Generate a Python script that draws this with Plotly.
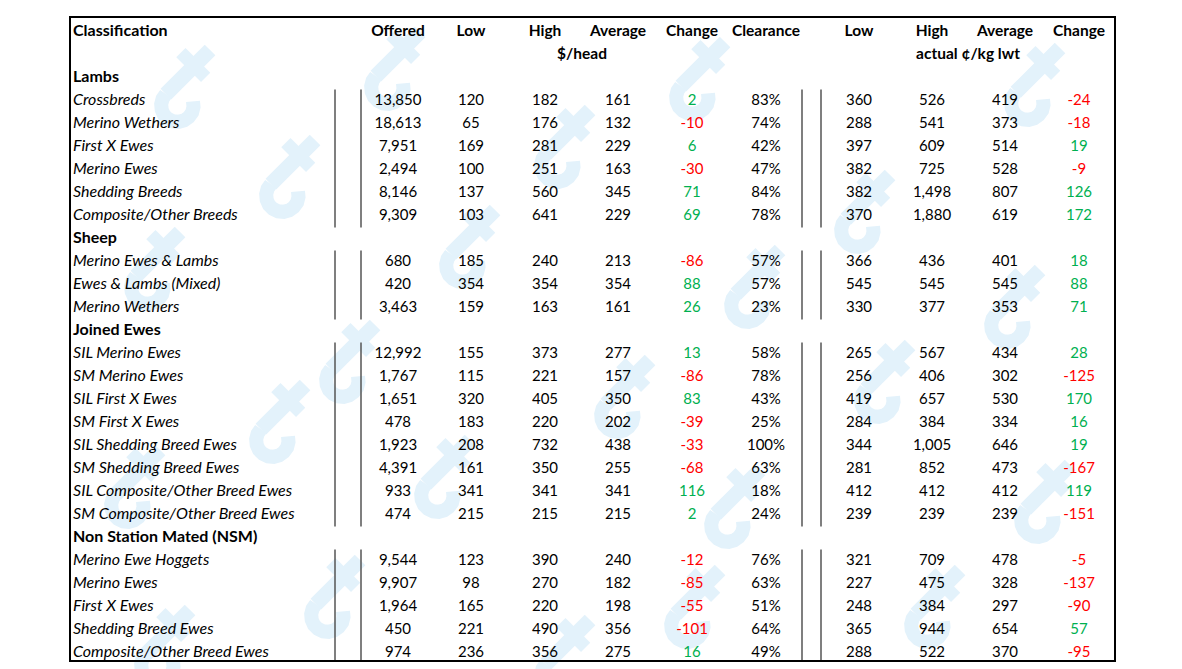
import math
import plotly.graph_objects as go

# ---------------- data ----------------
sections = ["Lambs", "Sheep", "Joined Ewes", "Non Station Mated (NSM)"]
section_sizes = [6, 3, 8, 5]
categories = [
    "Crossbreds", "Merino Wethers", "First X Ewes", "Merino Ewes", "Shedding Breeds", "Composite/Other Breeds",
    "Merino Ewes & Lambs", "Ewes & Lambs (Mixed)", "Merino Wethers",
    "SIL Merino Ewes", "SM Merino Ewes", "SIL First X Ewes", "SM First X Ewes",
    "SIL Shedding Breed Ewes", "SM Shedding Breed Ewes", "SIL Composite/Other Breed Ewes", "SM Composite/Other Breed Ewes",
    "Merino Ewe Hoggets", "Merino Ewes", "First X Ewes", "Shedding Breed Ewes", "Composite/Other Breed Ewes",
]
offered = [13850, 18613, 7951, 2494, 8146, 9309, 680, 420, 3463, 12992, 1767, 1651, 478, 1923, 4391, 933, 474,
           9544, 9907, 1964, 450, 974]
low_head = [120, 65, 169, 100, 137, 103, 185, 354, 159, 155, 115, 320, 183, 208, 161, 341, 215, 123, 98, 165, 221, 236]
high_head = [182, 176, 281, 251, 560, 641, 240, 354, 163, 373, 221, 405, 220, 732, 350, 341, 215, 390, 270, 220, 490, 356]
avg_head = [161, 132, 229, 163, 345, 229, 213, 354, 161, 277, 157, 350, 202, 438, 255, 341, 215, 240, 182, 198, 356, 275]
change_head = [2, -10, 6, -30, 71, 69, -86, 88, 26, 13, -86, 83, -39, -33, -68, 116, 2, -12, -85, -55, -101, 16]
clearance = [83, 74, 42, 47, 84, 78, 57, 57, 23, 58, 78, 43, 25, 100, 63, 18, 24, 76, 63, 51, 64, 49]
low_kg = [360, 288, 397, 382, 382, 370, 366, 545, 330, 265, 256, 419, 284, 344, 281, 412, 239, 321, 227, 248, 365, 288]
high_kg = [526, 541, 609, 725, 1498, 1880, 436, 545, 377, 567, 406, 657, 384, 1005, 852, 412, 239, 709, 475, 384, 944, 522]
avg_kg = [419, 373, 514, 528, 807, 619, 401, 545, 353, 434, 302, 530, 334, 646, 473, 412, 239, 478, 328, 297, 654, 370]
change_kg = [-24, -18, 19, -9, 126, 172, 18, 88, 71, 28, -125, 170, 16, 19, -167, 119, -151, -5, -137, -90, 57, -95]

headers = ["Offered", "Low", "High", "Average", "Change", "Clearance", "Low", "High", "Average", "Change"]
unit_labels = ["$/head", "actual ¢/kg lwt"]

# ---------------- layout constants ----------------
W, H = 1182, 669
PAGE_OFF = 8  # default body margin of the html page
ROW0, ROWH = 32, 23
col_x = [398, 471, 545, 618, 692, 766, 859, 932, 1005, 1079]
unit_x = [582, 968]
LABEL_X = 73
FONT = "Lato, Carlito, Calibri, sans-serif"
FS_NUM, FS_LABEL, FS_HEAD = 15, 16, 15.5
GREEN, RED, BLACK = "#00B050", "#FF0000", "#000000"

def fmt(v):
    return f"{v:,}"

item_rows, section_rows, groups = [], [], []
r = 2
for s, n in zip(sections, section_sizes):
    section_rows.append(r)
    r += 1
    groups.append((r, r + n - 1))
    for _ in range(n):
        item_rows.append(r)
        r += 1

def ypos(row):
    return ROW0 + ROWH * row

fig = go.Figure()

# watermark logos
wm_centres = [(180, 80), (390, 62), (695, 72), (1030, 78), (285, 170), (560, 140), (860, 205),
              (150, 262), (465, 240), (750, 280), (1010, 300), (345, 355), (275, 415), (620, 390),
              (880, 375), (1040, 495), (130, 480), (440, 470), (730, 500), (330, 590), (690, 600),
              (930, 600), (560, 650), (160, 640)]
WM = "#e3f2fb"

def rot(px, py, cx, cy, s, th):
    c, si = math.cos(th), math.sin(th)
    return cx + s * (px * c - py * si), cy + s * (px * si + py * c)

for (cx, cy) in wm_centres:
    th = math.radians(45)
    s = 1.25
    def seg(a, b, w):
        x0, y0 = rot(a[0], a[1], cx, cy, s, th)
        x1, y1 = rot(b[0], b[1], cx, cy, s, th)
        fig.add_shape(type="line", x0=x0, y0=y0, x1=x1, y1=y1, xref="x", yref="y",
                      line=dict(color=WM, width=w), layer="below")
    seg((0, -34), (0, 16), 15)
    seg((-15, -16), (13, -16), 13)
    pts = []
    for i in range(0, 13):
        a = math.radians(180 - i * 20)
        px, py = 13 + 13 * math.cos(a), 16 + 13 * math.sin(a)
        pts.append(rot(px, py, cx, cy, s, th))
    path = "M " + " L ".join(f"{x:.1f},{y:.1f}" for x, y in pts)
    fig.add_shape(type="path", path=path, xref="x", yref="y",
                  line=dict(color=WM, width=14), layer="below")

# header row
fig.add_trace(go.Scatter(x=[LABEL_X], y=[ypos(0)], mode="text", text=["Classification"],
                         textposition="middle right",
                         textfont=dict(family=FONT, size=FS_LABEL, color=BLACK, weight="bold")))
fig.add_trace(go.Scatter(x=col_x, y=[ypos(0)] * len(headers), mode="text", text=headers,
                         textposition="middle center",
                         textfont=dict(family=FONT, size=FS_HEAD, color=BLACK, weight="bold")))
fig.add_trace(go.Scatter(x=unit_x, y=[ypos(1)] * 2, mode="text", text=unit_labels,
                         textposition="middle center",
                         textfont=dict(family=FONT, size=FS_HEAD, color=BLACK, weight="bold")))
fig.add_trace(go.Scatter(x=[LABEL_X] * len(sections), y=[ypos(rr) for rr in section_rows], mode="text",
                         text=sections, textposition="middle right",
                         textfont=dict(family=FONT, size=FS_LABEL, color=BLACK, weight="bold")))
ys = [ypos(rr) for rr in item_rows]
fig.add_trace(go.Scatter(x=[LABEL_X] * len(categories), y=ys, mode="text", text=categories,
                         textposition="middle right",
                         textfont=dict(family=FONT, size=FS_LABEL, color=BLACK, style="italic")))

cols = [
    ([fmt(v) for v in offered], None),
    ([fmt(v) for v in low_head], None),
    ([fmt(v) for v in high_head], None),
    ([fmt(v) for v in avg_head], None),
    ([fmt(v) for v in change_head], change_head),
    ([f"{v}%" for v in clearance], None),
    ([fmt(v) for v in low_kg], None),
    ([fmt(v) for v in high_kg], None),
    ([fmt(v) for v in avg_kg], None),
    ([fmt(v) for v in change_kg], change_kg),
]
for cx, (texts, signs) in zip(col_x, cols):
    colors = BLACK if signs is None else [GREEN if v >= 0 else RED for v in signs]
    fig.add_trace(go.Scatter(x=[cx] * len(texts), y=ys, mode="text", text=texts,
                             textposition="middle center",
                             textfont=dict(family=FONT, size=FS_NUM, color=colors)))

for (a, b) in groups:
    y0 = ypos(a) - ROWH / 2
    y1 = min(ypos(b) + ROWH / 2, 661)
    for xv in [335, 361, 802, 821]:
        fig.add_shape(type="line", x0=xv, x1=xv, y0=y0, y1=y1, xref="x", yref="y",
                      line=dict(color="#555555", width=1.5))

fig.add_shape(type="rect", x0=70, x1=1115, y0=17, y1=661, xref="x", yref="y",
              line=dict(color="black", width=2))

fig.update_layout(
    width=W - PAGE_OFF, height=H - PAGE_OFF, margin=dict(l=0, r=0, t=0, b=0),
    paper_bgcolor="white", plot_bgcolor="white", showlegend=False,
    xaxis=dict(range=[PAGE_OFF, W], visible=False, fixedrange=True),
    yaxis=dict(range=[H, PAGE_OFF], visible=False, fixedrange=True),
)
fig.write_html("out.html")
